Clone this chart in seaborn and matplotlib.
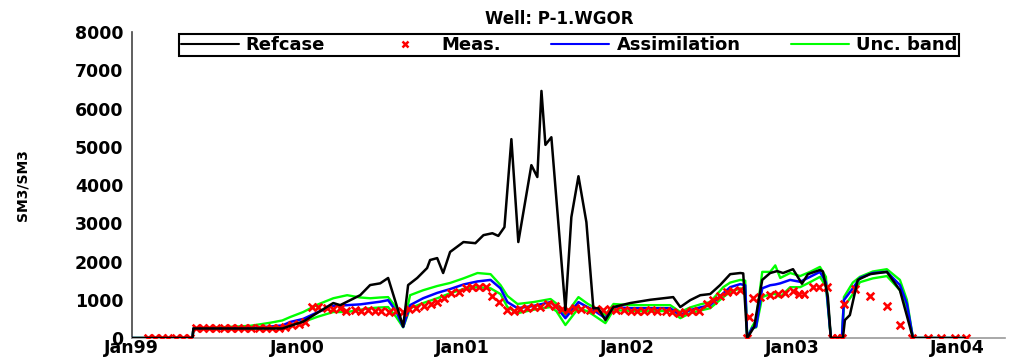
import numpy as np
import pandas as pd
import matplotlib
matplotlib.use("Agg")
import matplotlib.pyplot as plt
import matplotlib.dates as mdates
from matplotlib.lines import Line2D
import seaborn as sns

# time axes are given as decimal years
ref_t = [1999.00, 1999.367, 1999.373, 1999.911, 2000.038, 2000.220, 2000.262, 2000.383,
         2000.443, 2000.504, 2000.552, 2000.643, 2000.673, 2000.728, 2000.788, 2000.806,
         2000.849, 2000.885, 2000.927, 2001.006, 2001.078, 2001.127, 2001.181, 2001.217,
         2001.254, 2001.296, 2001.338, 2001.417, 2001.453, 2001.478, 2001.502, 2001.538,
         2001.623, 2001.659, 2001.702, 2001.750, 2001.792, 2001.822, 2001.865, 2001.913,
         2002.016, 2002.137, 2002.276, 2002.319, 2002.379, 2002.440, 2002.500, 2002.560,
         2002.621, 2002.682, 2002.700, 2002.724, 2002.766, 2002.815, 2002.863, 2002.905,
         2002.941, 2003.002, 2003.056, 2003.092, 2003.165, 2003.183, 2003.213, 2003.231,
         2003.304, 2003.316, 2003.346, 2003.394, 2003.467, 2003.570, 2003.649, 2003.728,
         2004.043]
refcase = [0, 0, 250, 250, 430, 915, 860, 1120,
           1385, 1430, 1570, 300, 1385, 1570, 1830, 2040,
           2090, 1700, 2250, 2510, 2480, 2690, 2740, 2670,
           2900, 5200, 2510, 4520, 4210, 6460, 5050, 5250,
           730, 3160, 4230, 3030, 780, 780, 470, 810,
           915, 1000, 1070, 810, 990, 1120, 1150, 1385,
           1670, 1700, 1690, 0, 290, 1520, 1700, 1750,
           1700, 1800, 1420, 1670, 1780, 1740, 1070, 0,
           0, 470, 600, 1520, 1670, 1730, 1250, 0,
           0]

sim_t = [1999.00, 1999.367, 1999.373, 1999.536, 1999.717, 1999.838, 1999.911, 1999.959,
         2000.038, 2000.128, 2000.220, 2000.304, 2000.383, 2000.443, 2000.504, 2000.552,
         2000.601, 2000.643, 2000.685, 2000.764, 2000.849, 2000.927, 2001.006, 2001.091,
         2001.170, 2001.230, 2001.272, 2001.333, 2001.430, 2001.533, 2001.569, 2001.623,
         2001.702, 2001.756, 2001.793, 2001.865, 2001.914, 2002.016, 2002.137, 2002.258,
         2002.319, 2002.379, 2002.440, 2002.500, 2002.579, 2002.621, 2002.682, 2002.712,
         2002.724, 2002.754, 2002.778, 2002.815, 2002.863, 2002.894, 2002.924, 2002.984,
         2003.045, 2003.105, 2003.165, 2003.201, 2003.231, 2003.298, 2003.310, 2003.364,
         2003.407, 2003.485, 2003.570, 2003.649, 2003.691, 2003.728, 2004.043]
assim = [0, 0, 250, 250, 260, 300, 330, 420,
         500, 680, 840, 860, 880, 915, 950, 990,
         700, 290, 860, 1040, 1180, 1280, 1400, 1480,
         1520, 1300, 940, 780, 840, 940, 810, 520,
         940, 810, 730, 520, 810, 780, 780, 780,
         600, 730, 800, 860, 1170, 1330, 1410, 1380,
         0, 260, 300, 1300, 1380, 1400, 1430, 1520,
         1470, 1600, 1730, 1460, 0, 0, 990, 1300,
         1570, 1700, 1730, 1385, 900, 0, 0]
band_lo = [0, 0, 250, 240, 240, 260, 280, 340,
           420, 560, 680, 680, 740, 780, 800, 810,
           550, 280, 780, 915, 1040, 1170, 1280, 1330,
           1300, 1150, 810, 650, 740, 810, 700, 340,
           780, 700, 600, 390, 730, 710, 700, 710,
           520, 650, 720, 780, 1070, 1200, 1300, 1250,
           0, 250, 280, 1070, 1150, 1150, 1070, 1330,
           1330, 1460, 1600, 1350, 0, 0, 810, 1150,
           1460, 1560, 1620, 1250, 800, 0, 0]
band_hi = [0, 0, 250, 280, 320, 400, 460, 550,
           680, 880, 1040, 1120, 1060, 1040, 1060, 1070,
           800, 300, 1120, 1250, 1360, 1440, 1560, 1700,
           1670, 1385, 1100, 890, 940, 1020, 900, 600,
           1070, 900, 810, 600, 890, 860, 860, 860,
           680, 800, 880, 940, 1330, 1450, 1520, 1500,
           0, 300, 470, 1730, 1730, 1900, 1570, 1700,
           1620, 1730, 1860, 1600, 0, 0, 1070, 1450,
           1600, 1740, 1800, 1520, 1000, 0, 0]

meas_t = [1999.10, 1999.14, 1999.18, 1999.22, 1999.27, 1999.31, 1999.35,
          1999.39, 1999.43, 1999.47, 1999.51, 1999.56, 1999.60, 1999.64, 1999.68, 1999.72,
          1999.77, 1999.81, 1999.85, 1999.89,
          1999.93, 1999.97, 2000.01, 2000.05, 2000.09, 2000.13, 2000.18, 2000.22, 2000.26,
          2000.30, 2000.35, 2000.39, 2000.43, 2000.47, 2000.51, 2000.56, 2000.60, 2000.64,
          2000.68, 2000.72, 2000.77, 2000.81, 2000.85, 2000.89, 2000.93, 2000.98,
          2001.02, 2001.06, 2001.10, 2001.14, 2001.18, 2001.22, 2001.27, 2001.31, 2001.35,
          2001.39, 2001.43, 2001.47, 2001.52, 2001.56, 2001.60, 2001.64, 2001.68, 2001.72,
          2001.77, 2001.81, 2001.85, 2001.89, 2001.93, 2001.98,
          2002.02, 2002.06, 2002.10, 2002.14, 2002.18, 2002.23, 2002.27, 2002.31, 2002.35,
          2002.39, 2002.43, 2002.48, 2002.52, 2002.56, 2002.60, 2002.64, 2002.68, 2002.722,
          2002.735, 2002.76, 2002.80, 2002.86, 2002.91, 2002.95,
          2003.00, 2003.04, 2003.07, 2003.12, 2003.16, 2003.21, 2003.235, 2003.27, 2003.30,
          2003.31, 2003.38, 2003.47, 2003.57, 2003.65, 2003.72, 2003.82, 2003.90, 2003.98,
          2004.05]
meas = [0, 0, 0, 0, 0, 0, 0,
        250, 250, 250, 250, 250, 250, 250, 250, 250,
        250, 250, 250, 250,
        280, 330, 380, 420, 810, 800, 790, 760, 780,
        720, 740, 700, 730, 700, 720, 690, 700, 680,
        760, 780, 850, 900, 950, 1050, 1170, 1200,
        1300, 1330, 1330, 1330, 1100, 950, 730, 720, 760,
        780, 800, 820, 880, 840, 760, 740, 780, 760,
        740, 760, 730, 760, 740, 730,
        720, 720, 700, 730, 710, 720, 690, 650, 680,
        700, 720, 900, 1000, 1100, 1200, 1230, 1250, 0,
        550, 1040, 1070, 1120, 1150, 1180,
        1230, 1150, 1160, 1330, 1330, 1330, 0, 0, 0,
        900, 1290, 1100, 840, 340, 0, 0, 0, 0,
        0]

year_ticks = [1999, 2000, 2001, 2002, 2003, 2004]
y_ticks = [0, 1000, 2000, 3000, 4000, 5000, 6000, 7000, 8000]


def to_date(years):
    years = np.asarray(years, dtype=float)
    y0 = np.floor(years).astype(int)
    start = pd.to_datetime([f"{y}-01-01" for y in y0])
    return start + pd.to_timedelta((years - y0) * 365.25, unit="D")


sns.set_style("white")
plt.rcParams["font.family"] = ["DejaVu Sans"]
plt.rcParams.update({"font.weight": "bold", "text.color": "black",
                     "axes.labelcolor": "black", "xtick.labelcolor": "black",
                     "ytick.labelcolor": "black"})

fig = plt.figure(figsize=(10.14, 3.6), dpi=100)
ax = fig.add_axes([0.130, 0.061, 0.861, 0.850])

sim_dates = to_date(sim_t)
sns.lineplot(x=sim_dates, y=band_lo, color="#00ff00", lw=1.7, estimator=None,
             sort=False, ax=ax, zorder=2)
sns.lineplot(x=sim_dates, y=band_hi, color="#00ff00", lw=1.7, estimator=None,
             sort=False, ax=ax, zorder=2)
sns.lineplot(x=sim_dates, y=assim, color="#0000ff", lw=1.8, estimator=None,
             sort=False, ax=ax, zorder=3)
sns.scatterplot(x=to_date(meas_t), y=meas, marker="x", color="#ff0000", s=30,
                linewidth=1.9, ax=ax, zorder=4)
sns.lineplot(x=to_date(ref_t), y=refcase, color="black", lw=1.8, estimator=None,
             sort=False, ax=ax, zorder=5)

ax.set_xlim(to_date([1999.0, 2004.285]))
ax.set_ylim(0, 8000)
ax.set_yticks(y_ticks)
ax.set_xticks(to_date(year_ticks))
ax.xaxis.set_major_formatter(mdates.DateFormatter("%b%y"))

for s in ["top", "right"]:
    ax.spines[s].set_visible(False)
ax.spines["left"].set_color("#444444")
ax.spines["bottom"].set_color("#999999")
ax.spines["left"].set_linewidth(1.2)
ax.spines["bottom"].set_linewidth(1.2)
ax.tick_params(axis="both", direction="in", length=4, color="#888888",
               labelcolor="black", labelsize=12.5, pad=1)
ax.tick_params(axis="y", pad=6)
for lab in ax.get_xticklabels() + ax.get_yticklabels():
    lab.set_fontweight("bold")

ax.set_title("Well: P-1.WGOR", fontsize=12, fontweight="bold", pad=6,
             color="black", x=0.49)
ax.set_ylabel("SM3/SM3", fontsize=10, fontweight="bold", color="black")
ax.yaxis.set_label_coords(-0.117, 0.5)
ax.set_xlabel("")

handles = [
    Line2D([], [], color="black", lw=1.5),
    Line2D([], [], color="#ff0000", marker="x", ls="none", markersize=4, mew=1.8),
    Line2D([], [], color="#0000ff", lw=1.5),
    Line2D([], [], color="#00ff00", lw=1.5),
]
labels = ["Refcase", "Meas.", "Assimilation", "Unc. band"]
leg = ax.legend(handles, labels, ncol=4, loc="lower left", mode="expand",
                bbox_to_anchor=(0.054, 0.922, 0.894, 0.068),
                prop={"weight": "bold", "size": 13},
                frameon=True, fancybox=False, framealpha=1, edgecolor="black",
                handlelength=3.2, handletextpad=0.4, borderpad=0.1,
                columnspacing=1.0, borderaxespad=0)
leg.get_frame().set_linewidth(1.5)
for t in leg.get_texts():
    t.set_color("black")

fig.savefig("out.png", dpi=100)
